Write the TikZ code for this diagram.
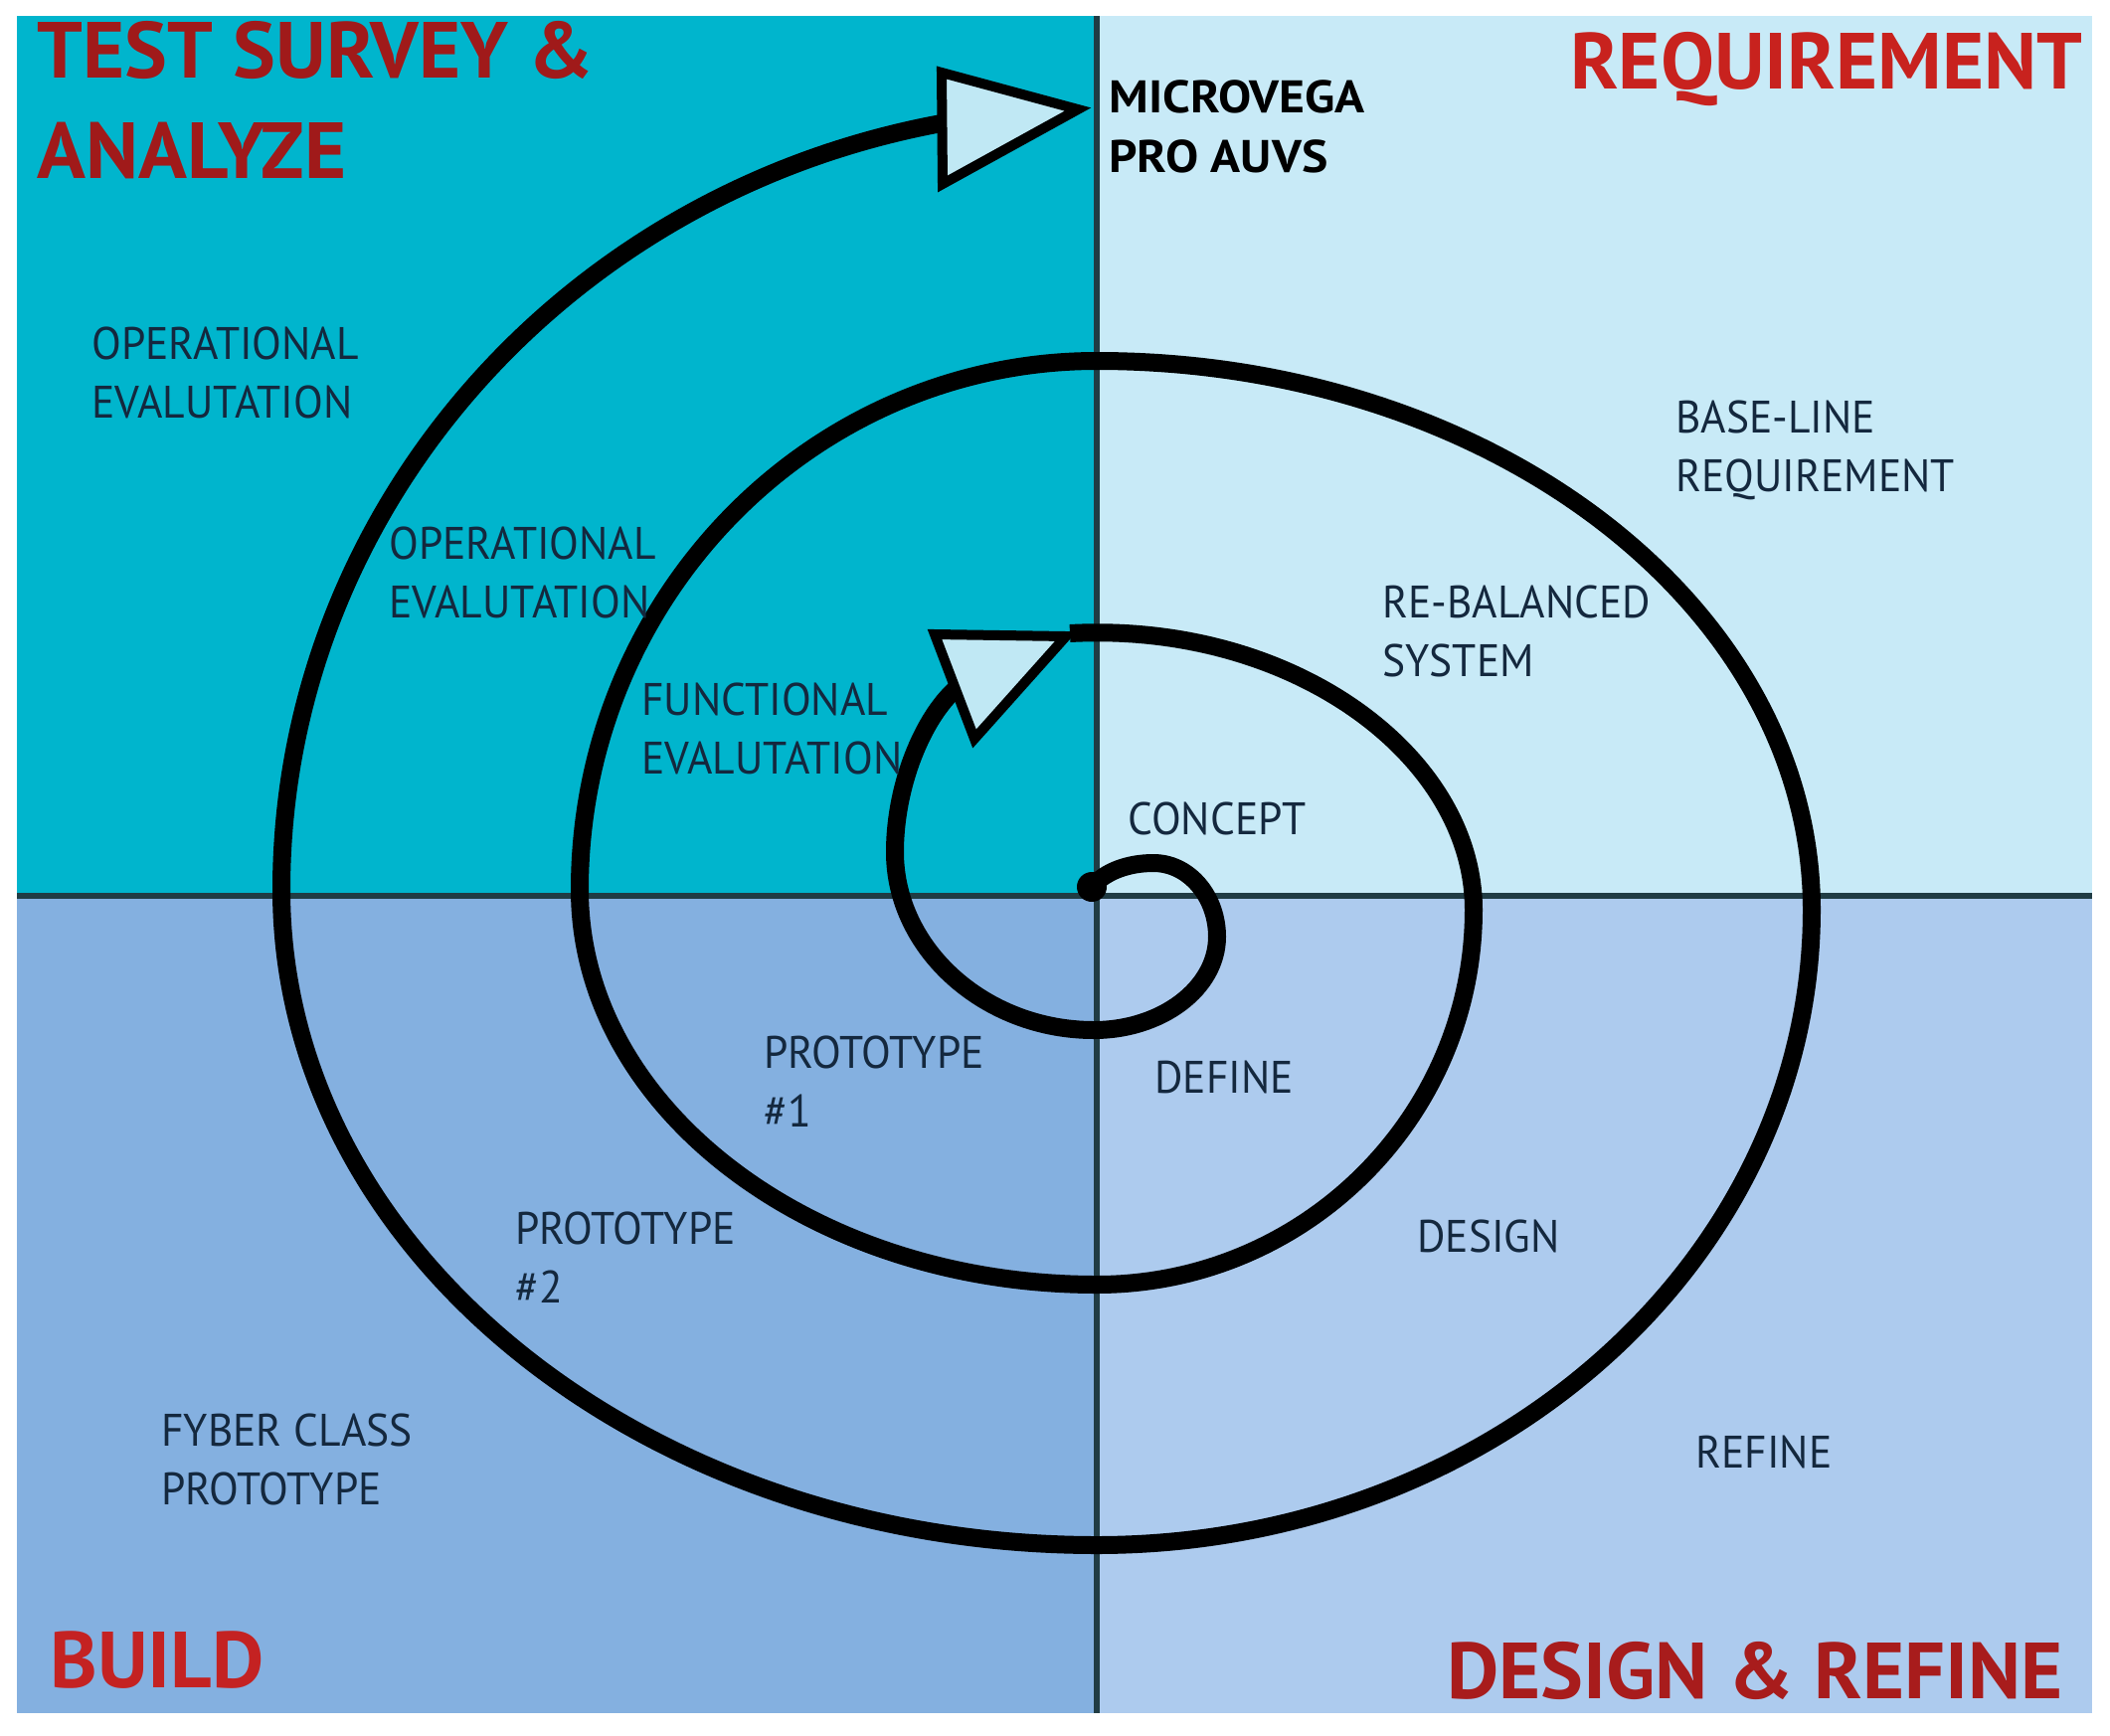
\documentclass[tikz,border=0pt]{standalone}
\usepackage{fontspec}
\setmainfont{PT Sans}
\newfontfamily\labfont[FakeStretch=0.95]{PT Sans}
\newfontfamily\ttlfont[FakeStretch=1.01]{PT Sans}
\newfontfamily\mvfont[FakeStretch=1.08]{PT Sans}
\definecolor{qTL}{RGB}{0,181,205}
\definecolor{qTR}{RGB}{200,234,247}
\definecolor{qBL}{RGB}{132,176,224}
\definecolor{qBR}{RGB}{173,203,238}
\definecolor{divc}{RGB}{32,60,68}
\definecolor{labc}{RGB}{20,40,62}
\definecolor{headfill}{RGB}{192,232,244}
\definecolor{redA}{RGB}{160,26,26}
\definecolor{redB}{RGB}{200,34,30}
\definecolor{redC}{RGB}{196,34,34}
\definecolor{redD}{RGB}{168,28,28}
\tikzset{
  lab/.style={anchor=base west, inner sep=0pt, align=left, text=labc,
    font=\labfont\fontsize{22.9}{29.5}\selectfont},
  ttl/.style={inner sep=0pt, align=left,
    font=\ttlfont\fontsize{40}{50.5}\selectfont\bfseries},
  spiral/.style={line width=9pt, black},
  arrowhd/.style={line width=5pt, black, fill=headfill, line join=miter},
  divider/.style={line width=2.8pt, divc}
}
\begin{document}
\begin{tikzpicture}[x=0.5pt, y=-0.5pt]
\useasboundingbox (0,0) rectangle (2122,1746);
\fill[white] (0,0) rectangle (2122,1746);
% quadrants
\fill[qTL] (17,16) rectangle (1103,901);
\fill[qTR] (1103,16) rectangle (2104,901);
\fill[qBL] (17,901) rectangle (1103,1723);
\fill[qBR] (1103,901) rectangle (2104,1723);
\draw[divider] (1103,16) -- (1103,1723);
\draw[divider] (17,901) -- (2104,901);
% titles
\node[ttl, anchor=base west, text=redA] (tsa) at (37,179) {TEST SURVEY \&\\ANALYZE};
\node[ttl, anchor=base east, text=redB] (req) at (2095,89) {REQUIREMENT};
\node[ttl, anchor=base west, text=redC] (bld) at (50,1697) {BUILD};
\node[ttl, anchor=base east, text=redD] (dr) at (2075,1708) {DESIGN \& REFINE};
% spiral
\coordinate (start) at (1098,892);
\draw[spiral] (start) .. controls (1112,876) and (1135,868) .. (1160,868)
  .. controls (1196,868) and (1224,902) .. (1224,942)
  .. controls (1224,994) and (1168,1036) .. (1100,1036)
  .. controls (991,1036) and (900,955) .. (900,857)
  .. controls (900,790) and (928,722) .. (962,692);
\draw[spiral] (1076,637) .. controls (1300,625) and (1482,760) .. (1482,915)
  .. controls (1482,1123) and (1312,1292) .. (1103,1292)
  .. controls (816,1292) and (583,1114) .. (583,895)
  .. controls (583,601) and (816,363) .. (1103,363)
  .. controls (1500,363) and (1822,610) .. (1822,915)
  .. controls (1822,1268) and (1500,1554) .. (1103,1554)
  .. controls (650,1554) and (283,1259) .. (283,895)
  .. controls (283,519) and (562,195) .. (947,124) -- (965,121);
\fill (start) circle (7.5pt);
\filldraw[arrowhd] (947,73) -- (1084,110) -- (948,185) -- cycle;
\filldraw[arrowhd] (940,638) -- (1072,640) -- (980,743) -- cycle;
% labels
\node[anchor=base west, inner sep=0pt, align=left, text=black,
  font=\mvfont\fontsize{23}{30}\selectfont\bfseries] (mv) at (1115,173) {MICROVEGA\\PRO AUVS};
\node[lab] (op1) at (92,420) {OPERATIONAL\\EVALUTATION};
\node[lab] (op2) at (391,621) {OPERATIONAL\\EVALUTATION};
\node[lab] (fe) at (645,778) {FUNCTIONAL\\EVALUTATION};
\node[lab] (bl) at (1685,494) {BASE-LINE\\REQUIREMENT};
\node[lab] (rb) at (1390,680) {RE-BALANCED\\SYSTEM};
\node[lab] (cc) at (1134,839) {CONCEPT};
\node[lab] (df) at (1161,1099) {DEFINE};
\node[lab] (p1) at (768,1133) {PROTOTYPE\\\#1};
\node[lab] (p2) at (518,1310) {PROTOTYPE\\\#2};
\node[lab] (ds) at (1425,1259) {DESIGN};
\node[lab] (fc) at (162,1513) {FYBER CLASS\\PROTOTYPE};
\node[lab] (rf) at (1705,1476) {REFINE};
\end{tikzpicture}
\end{document}
